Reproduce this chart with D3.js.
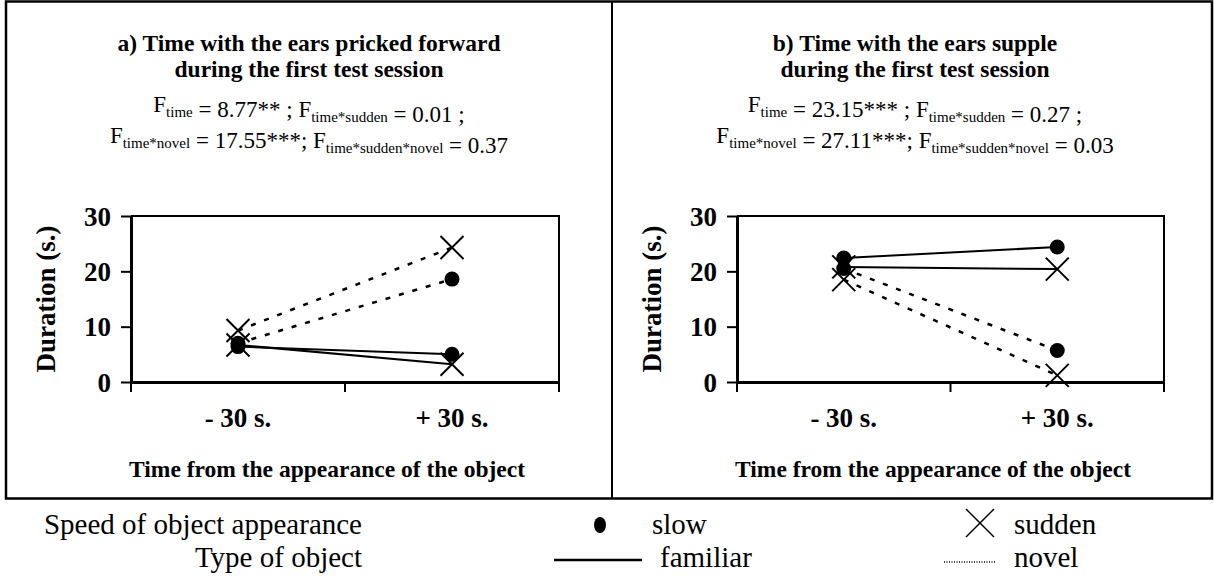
<!DOCTYPE html>
<html lang="en">
<head>
<meta charset="UTF-8" />
<title>Ears position during the first test session</title>
<script src="https://d3js.org/d3.v7.min.js"></script>
<style>
    body { margin: 0; background: #fff; }
    svg text { font-family: "Liberation Serif", "Times New Roman", serif; fill: #000; }
</style>
</head>
<body>
<div id="chart"></div>
<script>
    // --- Data (seconds) ---
    const timeLabels = ["- 30 s.", "+ 30 s."];
    const yTicks = [0, 10, 20, 30];

    // a) ears pricked forward
    const fwdSlowFamiliar = [6.4, 5.0];
    const fwdSuddenFamiliar = [6.7, 3.2];
    const fwdSlowNovel = [7.0, 18.6];
    const fwdSuddenNovel = [9.3, 24.3];

    // b) ears supple
    const suppleSlowFamiliar = [22.4, 24.4];
    const suppleSuddenFamiliar = [20.8, 20.4];
    const suppleSlowNovel = [20.5, 5.7];
    const suppleSuddenNovel = [18.5, 1.2];

    const titlesA = ["a) Time with the ears pricked forward", "during the first test session"];
    const titlesB = ["b) Time with the ears supple", "during the first test session"];

    // F statistics: [text, isSubscript]
    const statsA = [
        [["F", 0], ["time", 1], [" = 8.77** ; F", 0], ["time*sudden", 1], [" = 0.01 ;", 0]],
        [["F", 0], ["time*novel", 1], [" = 17.55***; F", 0], ["time*sudden*novel", 1], [" = 0.37", 0]]
    ];
    const statsB = [
        [["F", 0], ["time", 1], [" = 23.15*** ; F", 0], ["time*sudden", 1], [" = 0.27 ;", 0]],
        [["F", 0], ["time*novel", 1], [" = 27.11***; F", 0], ["time*sudden*novel", 1], [" = 0.03", 0]]
    ];

    const W = 1214, H = 579;
    const svg = d3.select("#chart").append("svg")
        .attr("width", W).attr("height", H);

    // outer frame + divider
    svg.append("rect")
        .attr("x", 6).attr("y", 1.5).attr("width", 1206).attr("height", 497)
        .attr("fill", "none").attr("stroke", "#000").attr("stroke-width", 2.5);
    svg.append("line")
        .attr("x1", 612).attr("x2", 612).attr("y1", 1.5).attr("y2", 498.5)
        .attr("stroke", "#000").attr("stroke-width", 2);

    const panels = [
        {left: 6, plot: [131, 559], titles: titlesA, stats: statsA,
         series: [
            {vals: fwdSlowFamiliar, mark: "dot", dash: false},
            {vals: fwdSuddenFamiliar, mark: "x", dash: false},
            {vals: fwdSlowNovel, mark: "dot", dash: true},
            {vals: fwdSuddenNovel, mark: "x", dash: true}
         ]},
        {left: 612, plot: [737, 1164], titles: titlesB, stats: statsB,
         series: [
            {vals: suppleSlowFamiliar, mark: "dot", dash: false},
            {vals: suppleSuddenFamiliar, mark: "x", dash: false},
            {vals: suppleSlowNovel, mark: "dot", dash: true},
            {vals: suppleSuddenNovel, mark: "x", dash: true}
         ]}
    ];

    const y = d3.scaleLinear().domain([0, 30]).range([382, 216]);

    function drawX(g, cx, cy, s, w) {
        g.append("path")
            .attr("d", `M${cx - s},${cy - s}L${cx + s},${cy + s}M${cx - s},${cy + s}L${cx + s},${cy - s}`)
            .attr("stroke", "#000").attr("stroke-width", w).attr("fill", "none");
    }

    panels.forEach(p => {
        const g = svg.append("g");
        const cx = p.left + 303;

        // titles
        p.titles.forEach((t, i) => {
            g.append("text")
                .attr("x", cx).attr("y", 51 + i * 26)
                .attr("text-anchor", "middle")
                .attr("font-size", 23.5).attr("font-weight", "bold")
                .text(t);
        });

        // F statistics with subscripts
        p.stats.forEach((parts, i) => {
            const t = g.append("text")
                .attr("x", cx).attr("y", 112 + i * 31)
                .attr("text-anchor", "middle")
                .attr("font-size", 23);
            parts.forEach(([s, sub]) => {
                t.append("tspan")
                    .attr("font-size", sub ? 15 : 23)
                    .attr("dy", sub ? 5 : 0)
                    .text(s);
                if (sub) t.append("tspan").attr("dy", -5).text("");
            });
        });

        const x = d3.scaleBand().domain(timeLabels).range(p.plot);

        // plot frame (top and right edges thin)
        g.append("path")
            .attr("d", `M${p.plot[0]},${y(30)}H${p.plot[1]}V${y(0)}`)
            .attr("fill", "none").attr("stroke", "#000").attr("stroke-width", 2);

        // y axis
        const ya = g.append("g")
            .attr("transform", `translate(${p.plot[0]},0)`)
            .call(d3.axisLeft(y).tickValues(yTicks).tickSize(10).tickPadding(10).tickSizeOuter(0));
        ya.select(".domain").attr("stroke-width", 3);
        ya.selectAll(".tick line").attr("stroke-width", 2);
        ya.selectAll("text")
            .attr("font-size", 27).attr("font-weight", "bold")
            .attr("dy", "0.34em");

        // x axis: labels at band centres, ticks at band boundaries
        const xa = g.append("g")
            .attr("transform", `translate(0,${y(0)})`)
            .call(d3.axisBottom(x).tickSize(0).tickPadding(0).tickSizeOuter(0));
        xa.select(".domain").attr("stroke-width", 3);
        xa.selectAll("text")
            .attr("y", 45).attr("dy", 0)
            .attr("font-size", 27).attr("font-weight", "bold");
        d3.range(timeLabels.length + 1).forEach(i => {
            const bx = p.plot[0] + i * x.step();
            xa.append("line")
                .attr("x1", bx).attr("x2", bx).attr("y1", 0).attr("y2", 10)
                .attr("stroke", "#000").attr("stroke-width", 2);
        });

        // axis titles
        g.append("text")
            .attr("transform", `translate(${p.left + 49},${(y(0) + y(30)) / 2}) rotate(-90)`)
            .attr("text-anchor", "middle")
            .attr("font-size", 27).attr("font-weight", "bold")
            .text("Duration (s.)");
        g.append("text")
            .attr("x", p.left + 321).attr("y", 477)
            .attr("text-anchor", "middle")
            .attr("font-size", 23.5).attr("font-weight", "bold")
            .text("Time from the appearance of the object");

        // series lines
        const xc = d => x(d) + x.bandwidth() / 2;
        const line = d3.line().x((d, i) => xc(timeLabels[i])).y(d => y(d));
        p.series.forEach(s => {
            g.append("path")
                .datum(s.vals)
                .attr("d", line)
                .attr("fill", "none").attr("stroke", "#000")
                .attr("stroke-width", s.dash ? 2.5 : 2)
                .attr("stroke-dasharray", s.dash ? "5,9" : null);
        });
        // markers
        p.series.forEach(s => {
            s.vals.forEach((v, i) => {
                const px = xc(timeLabels[i]), py = y(v);
                if (s.mark === "dot") {
                    g.append("circle").attr("cx", px).attr("cy", py).attr("r", 7.5).attr("fill", "#000");
                } else {
                    drawX(g, px, py, 11.5, 2);
                }
            });
        });
    });

    // legend
    const lg = svg.append("g").attr("font-size", 29);
    lg.append("text").attr("x", 362).attr("y", 534).attr("text-anchor", "end").text("Speed of object appearance");
    lg.append("text").attr("x", 362).attr("y", 567).attr("text-anchor", "end").text("Type of object");
    lg.append("ellipse").attr("cx", 600).attr("cy", 525).attr("rx", 6).attr("ry", 8).attr("fill", "#000");
    lg.append("text").attr("x", 652).attr("y", 534).text("slow");
    lg.append("line").attr("x1", 554).attr("x2", 642).attr("y1", 560).attr("y2", 560)
        .attr("stroke", "#000").attr("stroke-width", 2.5);
    lg.append("text").attr("x", 660).attr("y", 567).text("familiar");
    drawX(lg, 980, 523, 14, 1.5);
    lg.append("text").attr("x", 1014).attr("y", 534).text("sudden");
    lg.append("line").attr("x1", 944).attr("x2", 996).attr("y1", 562).attr("y2", 562)
        .attr("stroke", "#000").attr("stroke-width", 1.5).attr("stroke-dasharray", "1,1.5");
    lg.append("text").attr("x", 1014).attr("y", 567).text("novel");
</script>
</body>
</html>
